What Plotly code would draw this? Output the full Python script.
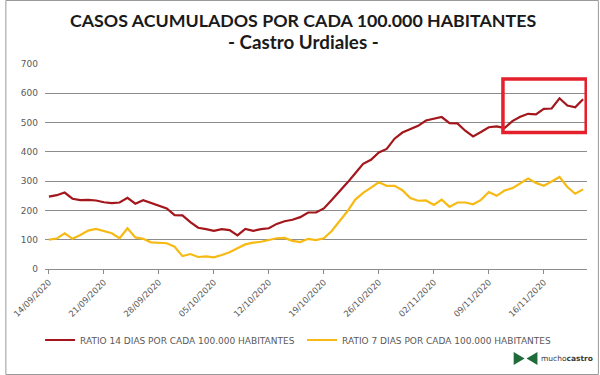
import pandas as pd
import plotly.graph_objects as go

start_date = "2020-09-14"
ratio14 = [247, 252, 261, 240, 235, 236, 234, 228, 225, 227, 243, 223, 235, 226, 218, 207, 184, 183, 160, 141,
           136, 130, 136, 133, 115, 137, 130, 136, 139, 154, 163, 168, 177, 193, 193, 207, 236, 265, 295, 327,
           359, 373, 398, 410, 445, 466, 478, 489, 507, 512, 519, 498, 497, 472, 453, 468, 484, 487, 481, 505,
           520, 530, 528, 547, 548, 583, 558, 552, 580]
ratio7 = [100, 104, 122, 103, 116, 131, 137, 130, 122, 105, 139, 108, 103, 91, 90, 88, 76, 44, 51, 41,
          43, 40, 48, 57, 71, 84, 90, 93, 99, 105, 106, 96, 92, 103, 99, 105, 130, 162, 197, 237,
          260, 278, 296, 284, 284, 269, 242, 233, 234, 219, 237, 212, 227, 227, 221, 236, 263, 250, 268, 276,
          293, 309, 294, 284, 299, 314, 280, 257, 272]
tick_labels = ["14/09/2020", "21/09/2020", "28/09/2020", "05/10/2020", "12/10/2020",
               "19/10/2020", "26/10/2020", "02/11/2020", "09/11/2020", "16/11/2020"]
y_ticks = [0, 100, 200, 300, 400, 500, 600, 700]
names = ["RATIO 14 DIAS POR CADA 100.000 HABITANTES", "RATIO 7 DIAS POR CADA 100.000 HABITANTES"]
title_text = "CASOS ACUMULADOS POR CADA 100.000 HABITANTES"
subtitle_text = "- Castro Urdiales -"

dates = pd.date_range(start_date, periods=len(ratio14), freq="D")
tick_vals = pd.to_datetime(tick_labels, format="%d/%m/%Y")

W, H = 600, 375
L, R, T, B = 40, 13, 64, 106
pw, ph = W - L - R, H - T - B

def px(x):
    return (x - L) / pw

def py(y):
    return (H - B - y) / ph

RED = "#A3161B"
GOLD = "#F7BA14"
GRID = "#8C8C8C"
TXT = "#595959"

fig = go.Figure()
fig.add_trace(go.Scatter(x=dates, y=ratio14, mode="lines", name=names[0],
                         line=dict(color=RED, width=2.2)))
fig.add_trace(go.Scatter(x=dates, y=ratio7, mode="lines", name=names[1],
                         line=dict(color=GOLD, width=2.2)))

half = pd.Timedelta(hours=12)
fig.update_layout(
    xaxis=dict(type="date", range=[dates[0] - half, dates[-1] + half],
               tickvals=tick_vals, ticktext=tick_labels, tickangle=-45,
               tickfont=dict(family="DejaVu Sans", size=8.5, color=TXT),
               showgrid=False, showline=True, linecolor=GRID, linewidth=1, zeroline=False,
               ticks="outside", ticklen=4, tickcolor=GRID, tickwidth=1),
    yaxis=dict(range=[0, 700], tickmode="array", tickvals=y_ticks,
               showgrid=True, gridcolor=GRID, gridwidth=1,
               zeroline=False, showline=False,
               tickfont=dict(family="DejaVu Sans", size=9, color=TXT),
               ticks="", ticklabelstandoff=6),
)

# highlight box
fig.add_shape(type="rect", xref="x", yref="y",
              x0=dates[0] + pd.Timedelta(days=57.8), x1=dates[0] + pd.Timedelta(days=68.4),
              y0=466, y1=649, line=dict(color="#E3202B", width=3.5), fillcolor="rgba(0,0,0,0)")

# outer border
fig.add_shape(type="rect", xref="paper", yref="paper",
              x0=px(0.5), x1=px(598.5), y0=py(374.5), y1=py(0.5),
              line=dict(color="#9A9A9A", width=1), fillcolor="rgba(0,0,0,0)")

# logo icon (two green arrowheads)
icon_path = "M {a},{b} L {c},{d} L {e},{f} Z".format(
    a=px(513), b=py(352), c=px(524), d=py(358.5), e=px(513), f=py(365))
fig.add_shape(type="path", xref="paper", yref="paper", path=icon_path,
              fillcolor="#1F6B3A", line=dict(width=0))
icon_path2 = "M {a},{b} L {c},{d} L {e},{f} Z".format(
    a=px(537), b=py(352), c=px(526), d=py(358.5), e=px(537), f=py(365))
fig.add_shape(type="path", xref="paper", yref="paper", path=icon_path2,
              fillcolor="#1F6B3A", line=dict(width=0))

fig.add_annotation(x=px(539), y=py(358), xref="paper", yref="paper", xanchor="left", yanchor="middle",
                   text="mucho<b>castro</b>", showarrow=False,
                   font=dict(family="DejaVu Sans", size=7.5, color="#3A3A3A"))

# titles
fig.add_annotation(x=px(300), xref="paper", xanchor="center", y=py(20), yref="paper", yanchor="middle",
                   text="<b>" + title_text + "</b>", showarrow=False,
                   font=dict(family="Lato", size=17.8, color="#1A1A1A"))
fig.add_annotation(x=px(300.5), xref="paper", xanchor="center", y=py(41.5), yref="paper", yanchor="middle",
                   text="<b>" + subtitle_text + "</b>", showarrow=False,
                   font=dict(family="Lato", size=18.8, color="#1A1A1A"))

fig.update_layout(
    width=W, height=H,
    margin=dict(l=L, r=R, t=T, b=B),
    paper_bgcolor="white", plot_bgcolor="white",
    showlegend=True,
    legend=dict(orientation="h", x=px(35), xanchor="left", y=py(340), yanchor="middle",
                font=dict(family="DejaVu Sans", size=9, color=TXT),
                itemwidth=30, entrywidth=217, entrywidthmode="pixels",
                bgcolor="rgba(0,0,0,0)", tracegroupgap=0),
)

fig.write_html("out.html", config={"displayModeBar": False},
               post_script="document.body.style.margin='0';")
